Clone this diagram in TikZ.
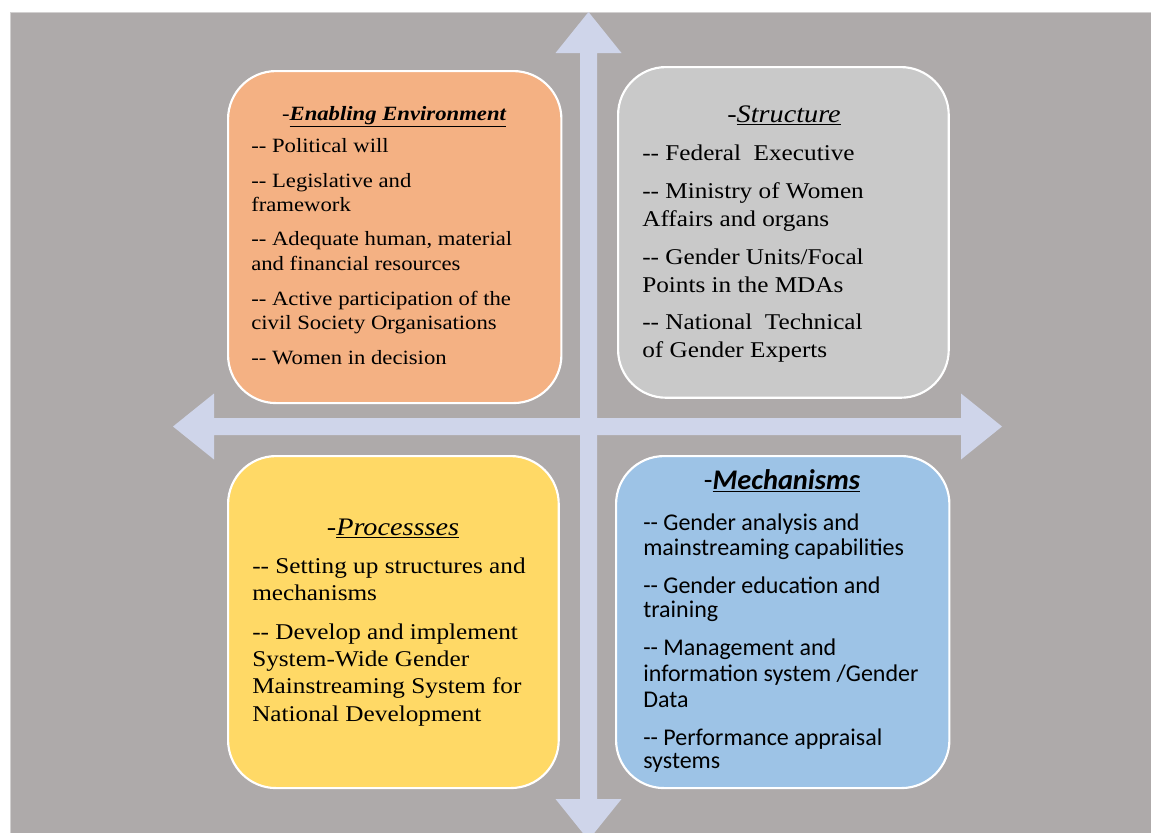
\documentclass[tikz,border=0pt]{standalone}
\usepackage{fontspec}
\setmainfont{Liberation Serif}[FakeStretch=1.12]
\newfontfamily\calib{Carlito}
\definecolor{bggray}{HTML}{AEAAAA}
\definecolor{bgedge}{HTML}{D2D0D0}
\definecolor{arrowc}{HTML}{CFD5EA}
\definecolor{orangeb}{HTML}{F4B183}
\definecolor{grayb}{HTML}{C9C9C9}
\definecolor{yellowb}{HTML}{FFD966}
\definecolor{blueb}{HTML}{9DC3E6}
\tikzset{
  quad/.style={draw=white, line width=1.6pt, rounded corners=36pt},
  arrowshape/.style={fill=arrowc, draw=none},
  lineA/.style={anchor=base west, inner sep=0pt, font=\fontsize{15.2}{18}\selectfont},
  lineB/.style={anchor=base west, inner sep=0pt, font=\fontsize{16.9}{20}\selectfont},
  lineC/.style={anchor=base west, inner sep=0pt, font=\calib\fontsize{18}{21}\selectfont},
  titleA/.style={anchor=base, inner sep=0pt, font=\fontsize{15.2}{18}\selectfont},
  titleB/.style={anchor=base, inner sep=0pt, font=\fontsize{18.9}{22}\selectfont},
  titleC/.style={anchor=base, inner sep=0pt, font=\calib\fontsize{21.3}{24}\selectfont},
}
\begin{document}
\begin{tikzpicture}[x=0.75pt,y=-0.75pt]
\useasboundingbox (0,0) rectangle (1151,832);
\clip (0,0) rectangle (1151,832);
% background
\fill[white] (0,0) rectangle (1151,832);
\filldraw[fill=bggray, draw=bgedge, line width=0.75pt] (10,12) rectangle (1160,840);
% double arrows
\fill[arrowshape] (588.5,12) -- (621.5,53) -- (597,53) -- (597,799) -- (621.5,799) -- (588.5,840)
  -- (555.5,799) -- (580,799) -- (580,53) -- (555.5,53) -- cycle;
\fill[arrowshape] (173,426.5) -- (214,393.5) -- (214,418) -- (961,418) -- (961,393.5) -- (1002,426.5)
  -- (961,459.5) -- (961,435) -- (214,435) -- (214,459.5) -- cycle;
% quadrant boxes
\node[quad, fill=orangeb, minimum width=250pt, minimum height=249pt, anchor=north west] (env) at (227,70) {};
\node[quad, fill=grayb, minimum width=248pt, minimum height=248pt, anchor=north west] (struct) at (617,66) {};
\node[quad, fill=yellowb, minimum width=248pt, minimum height=249pt, anchor=north west] (proc) at (227,455) {};
\node[quad, fill=blueb, minimum width=250pt, minimum height=249pt, anchor=north west] (mech) at (615,455) {};
% Enabling Environment
\node[titleA] (envt) at (394,120) {-\underline{\bfseries\itshape Enabling Environment}};
\node[lineA] (e1) at (251,152) {-{}- Political will};
\node[lineA] (e2) at (251,187) {-{}- Legislative and};
\node[lineA] (e3) at (251,211) {framework};
\node[lineA] (e4) at (251,245) {-{}- Adequate human, material};
\node[lineA] (e5) at (251,270) {and financial resources};
\node[lineA] (e6) at (251,305) {-{}- Active participation of the};
\node[lineA] (e7) at (251,329) {civil Society Organisations};
\node[lineA] (e8) at (251,364) {-{}- Women in decision};
% Structure
\node[titleB] (strt) at (784,122) {-\underline{\itshape Structure}};
\node[lineB] (s1) at (642,160) {-{}- Federal\ \ Executive};
\node[lineB] (s2) at (642,198) {-{}- Ministry of Women};
\node[lineB] (s3) at (642,226) {Affairs and organs};
\node[lineB] (s4) at (642,264) {-{}- Gender Units/Focal};
\node[lineB] (s5) at (642,292) {Points in the MDAs};
\node[lineB] (s6) at (642,329) {-{}- National\ \ Technical};
\node[lineB] (s7) at (642,357) {of Gender Experts};
% Processses
\node[titleB] (proct) at (393,535) {-\underline{\itshape Processses}};
\node[lineB] (p1) at (252,573) {-{}- Setting up structures and};
\node[lineB] (p2) at (252,600) {mechanisms};
\node[lineB] (p3) at (252,639) {-{}- Develop and implement};
\node[lineB] (p4) at (252,666) {System-Wide Gender};
\node[lineB] (p5) at (252,693) {Mainstreaming System for};
\node[lineB] (p6) at (252,721) {National Development};
% Mechanisms
\node[titleC] (mecht) at (782,489) {-\underline{\bfseries\itshape Mechanisms}};
\node[lineC] (m1) at (643,530) {-{}- Gender analysis and};
\node[lineC] (m2) at (643,555) {mainstreaming capabilities};
\node[lineC] (m3) at (643,593) {-{}- Gender education and};
\node[lineC] (m4) at (643,617) {training};
\node[lineC] (m5) at (643,655) {-{}- Management and};
\node[lineC] (m6) at (643,681) {information system /Gender};
\node[lineC] (m7) at (643,707) {Data};
\node[lineC] (m8) at (643,745) {-{}- Performance appraisal};
\node[lineC] (m9) at (643,768) {systems};
\end{tikzpicture}
\end{document}
